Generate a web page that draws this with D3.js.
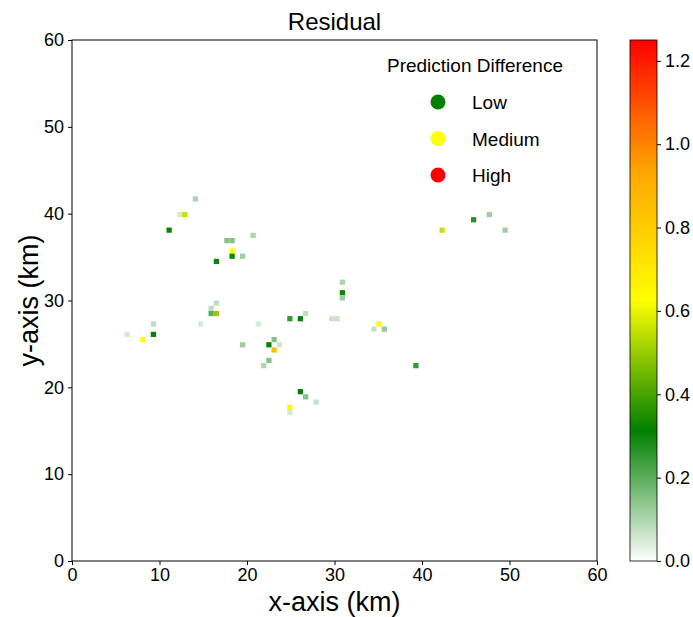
<!DOCTYPE html>
<html>
<head>
<meta charset="utf-8">
<script src="https://cdn.jsdelivr.net/npm/d3@7"></script>
<style>
  body { margin: 0; background: #fff; }
  svg text { font-family: "Liberation Sans", Arial, sans-serif; fill: #000; }
</style>
</head>
<body>
<svg id="chart" width="693" height="617"></svg>
<script>
// grid: 100 x 100 cells, 0.6 km each
const cellSize = 0.6;
// non-zero residual cells (column, row, value)
const cellCols = [23, 20, 21, 18, 29, 30, 34, 30, 30, 32, 27, 27, 26, 26, 27, 15, 24, 35, 10, 15,
                  13, 32, 37, 39, 38, 38, 37, 36, 51, 51, 51, 41, 43, 44, 49, 50, 58, 57, 59, 43,
                  44, 46, 41, 41, 65, 70, 76, 79, 82];
const cellRows = [69, 66, 66, 63, 61, 61, 62, 59, 58, 58, 57, 49, 48, 47, 47, 45, 45, 45, 43, 43,
                  42, 41, 41, 41, 42, 40, 38, 37, 53, 51, 50, 46, 46, 47, 46, 46, 45, 44, 44, 32,
                  31, 30, 29, 28, 37, 63, 65, 66, 63];
const cellVals = [0.10, 0.05, 0.55, 0.32, 0.15, 0.15, 0.10, 0.62, 0.33, 0.12, 0.30, 0.08, 0.08, 0.20, 0.50, 0.08, 0.05, 0.05, 0.05, 0.32,
                  0.62, 0.12, 0.32, 0.06, 0.15, 0.85, 0.15, 0.10, 0.10, 0.33, 0.12, 0.25, 0.31, 0.08, 0.07, 0.07, 0.65, 0.07, 0.13, 0.31,
                  0.15, 0.07, 0.65, 0.05, 0.25, 0.55, 0.27, 0.12, 0.12];

const axisTicks = [0, 10, 20, 30, 40, 50, 60];
const cbarTicks = [0.0, 0.2, 0.4, 0.6, 0.8, 1.0, 1.2];
const cbarMax = 1.25;
const legendLabels = ['Low', 'Medium', 'High'];
const legendColors = ['#008000', '#ffff00', '#ff0000'];

const svg = d3.select('#chart');
const plot = { left: 72, right: 597, top: 40, bottom: 561 };

const x = d3.scaleLinear().domain([0, 60]).range([plot.left, plot.right]);
const y = d3.scaleLinear().domain([0, 60]).range([plot.bottom, plot.top]);

// white -> green -> yellow -> orange -> red
const cmap = d3.scaleLinear()
  .domain([0, cbarMax * 0.25, cbarMax * 0.5, cbarMax * 0.75, cbarMax])
  .range(['#ffffff', '#008000', '#ffff00', '#ffa500', '#ff0000'])
  .clamp(true);

const cells = cellCols.map((c, i) => ({ col: c, row: cellRows[i], v: cellVals[i] }));

svg.append('g')
  .selectAll('rect')
  .data(cells)
  .join('rect')
  .attr('x', d => x(d.col * cellSize))
  .attr('y', d => y((d.row + 1) * cellSize))
  .attr('width', x(cellSize) - x(0))
  .attr('height', y(0) - y(cellSize))
  .attr('fill', d => cmap(d.v));

// frame
svg.append('rect')
  .attr('x', plot.left).attr('y', plot.top)
  .attr('width', plot.right - plot.left).attr('height', plot.bottom - plot.top)
  .attr('fill', 'none').attr('stroke', '#000').attr('stroke-width', 1);

const xAxis = svg.append('g')
  .attr('transform', `translate(0,${plot.bottom})`)
  .call(d3.axisBottom(x).tickValues(axisTicks).tickSize(4).tickPadding(3));
const yAxis = svg.append('g')
  .attr('transform', `translate(${plot.left},0)`)
  .call(d3.axisLeft(y).tickValues(axisTicks).tickSize(4).tickPadding(4));
[xAxis, yAxis].forEach(g => {
  g.select('.domain').remove();
  g.selectAll('text').style('font-size', '18px');
});

svg.append('text')
  .attr('x', (plot.left + plot.right) / 2).attr('y', 30)
  .attr('text-anchor', 'middle').style('font-size', '24px')
  .text('Residual');

svg.append('text')
  .attr('x', (plot.left + plot.right) / 2).attr('y', 611)
  .attr('text-anchor', 'middle').style('font-size', '27px')
  .text('x-axis (km)');

svg.append('text')
  .attr('transform', `translate(38,${(plot.top + plot.bottom) / 2}) rotate(-90)`)
  .attr('text-anchor', 'middle').style('font-size', '27px')
  .text('y-axis (km)');

// legend
svg.append('text')
  .attr('x', 475).attr('y', 72)
  .attr('text-anchor', 'middle').style('font-size', '19px')
  .text('Prediction Difference');

const leg = svg.append('g')
  .selectAll('g')
  .data(legendLabels)
  .join('g')
  .attr('transform', (d, i) => `translate(438,${102 + i * 36.5})`);
leg.append('circle').attr('r', 7.5).attr('fill', (d, i) => legendColors[i]);
leg.append('text').attr('x', 34).attr('y', 7).style('font-size', '19px').text(d => d);

// colorbar
const cb = { left: 630, width: 27 };
const cy = d3.scaleLinear().domain([0, cbarMax]).range([plot.bottom, plot.top]);

const grad = svg.append('defs').append('linearGradient')
  .attr('id', 'cbgrad').attr('x1', 0).attr('y1', 1).attr('x2', 0).attr('y2', 0);
d3.range(0, 1.0001, 0.05).forEach(t => {
  grad.append('stop').attr('offset', t).attr('stop-color', cmap(t * cbarMax));
});

svg.append('rect')
  .attr('x', cb.left).attr('y', plot.top)
  .attr('width', cb.width).attr('height', plot.bottom - plot.top)
  .attr('fill', 'url(#cbgrad)')
  .attr('stroke', '#000').attr('stroke-width', 0.8);

const cAxis = svg.append('g')
  .attr('transform', `translate(${cb.left + cb.width},0)`)
  .call(d3.axisRight(cy).tickValues(cbarTicks).tickFormat(d3.format('.1f')).tickSize(4).tickPadding(4));
cAxis.select('.domain').remove();
cAxis.selectAll('text').style('font-size', '18px');
</script>
</body>
</html>
